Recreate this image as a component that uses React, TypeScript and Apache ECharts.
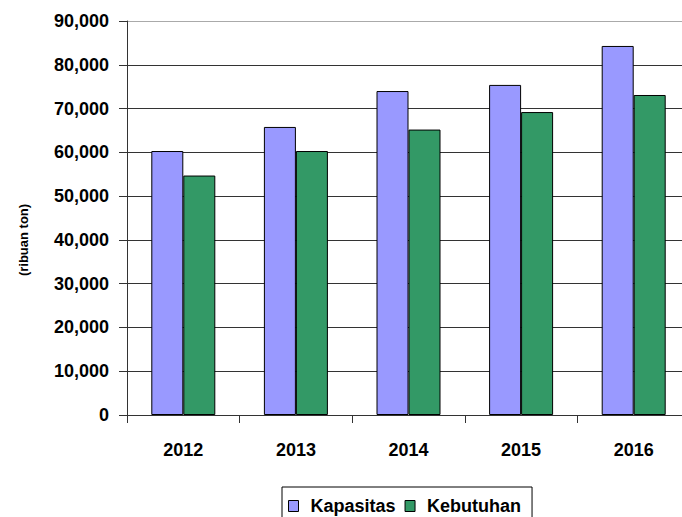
import React, { useEffect, useRef } from "react";
import * as echarts from "echarts";

const categories = ["2012", "2013", "2014", "2015", "2016"];
const kapasitas = [60300, 65800, 74000, 75400, 84300];
const kebutuhan = [54700, 60300, 65200, 69200, 73100];
const seriesNames = ["Kapasitas", "Kebutuhan"];
const yAxisTitle = "(ribuan ton)";

const FONT = "'Liberation Sans', Arial, sans-serif";

export default function App() {
  const ref = useRef<HTMLDivElement>(null);
  useEffect(() => {
    if (!ref.current) return;
    const chart = echarts.init(ref.current, undefined, { renderer: "svg" });
    const gridColors = ["#333", "#333", "#333", "#333", "#333", "#333", "#333", "#333", "#333", "#aaa"];
    chart.setOption({
      animation: false,
      backgroundColor: "#fff",
      textStyle: { fontFamily: FONT },
      grid: { left: 127, top: 21, width: 563, height: 394, containLabel: false },
      legend: {
        left: 282,
        top: 487,
        orient: "horizontal",
        padding: [10, 11, 12, 6],
        borderColor: "#000",
        borderWidth: 1,
        itemWidth: 10,
        itemHeight: 11,
        itemGap: 9,
        icon: "rect",
        itemStyle: { borderColor: "#000", borderWidth: 1 },
        textStyle: { fontFamily: FONT, fontWeight: "bold", fontSize: 18, color: "#000", padding: [0, 0, 0, 7] },
        data: seriesNames,
      },
      xAxis: {
        type: "category",
        data: categories,
        axisLine: { lineStyle: { color: "#333", width: 1 } },
        axisTick: { show: true, length: 8, lineStyle: { color: "#333" } },
        axisLabel: { margin: 26, fontFamily: FONT, fontWeight: "bold", fontSize: 18, color: "#000" },
      },
      yAxis: {
        type: "value",
        min: 0,
        max: 90000,
        interval: 10000,
        axisLine: { show: true, lineStyle: { color: "#333", width: 1 } },
        axisTick: { show: true, length: 8, lineStyle: { color: "#333" } },
        splitLine: { show: true, lineStyle: { color: gridColors, width: 1.2 } },
        axisLabel: {
          margin: 18,
          fontFamily: FONT,
          fontWeight: "bold",
          fontSize: 18,
          color: "#000",
          formatter: (v: number) => v.toLocaleString("en-US"),
        },
      },
      graphic: [
        {
          type: "text",
          x: 23,
          y: 240,
          rotation: Math.PI / 2,
          style: {
            text: yAxisTitle,
            fontFamily: FONT,
            fontWeight: "bold",
            fontSize: 13,
            fill: "#000",
            align: "center",
            verticalAlign: "middle",
          },
        },
      ],
      series: [
        {
          name: seriesNames[0],
          type: "bar",
          data: kapasitas,
          barWidth: 32,
          barGap: "0%",
          itemStyle: { color: "#9999FF", borderColor: "#000", borderWidth: 1 },
        },
        {
          name: seriesNames[1],
          type: "bar",
          data: kebutuhan,
          barWidth: 32,
          barGap: "0%",
          itemStyle: { color: "#339966", borderColor: "#000", borderWidth: 1 },
        },
      ],
    });
    return () => chart.dispose();
  }, []);
  return (
    <div style={{ position: "absolute", left: 0, top: 0, width: 682, height: 517, overflow: "hidden" }}>
      <div ref={ref} style={{ width: 730, height: 517 }} />
    </div>
  );
}
